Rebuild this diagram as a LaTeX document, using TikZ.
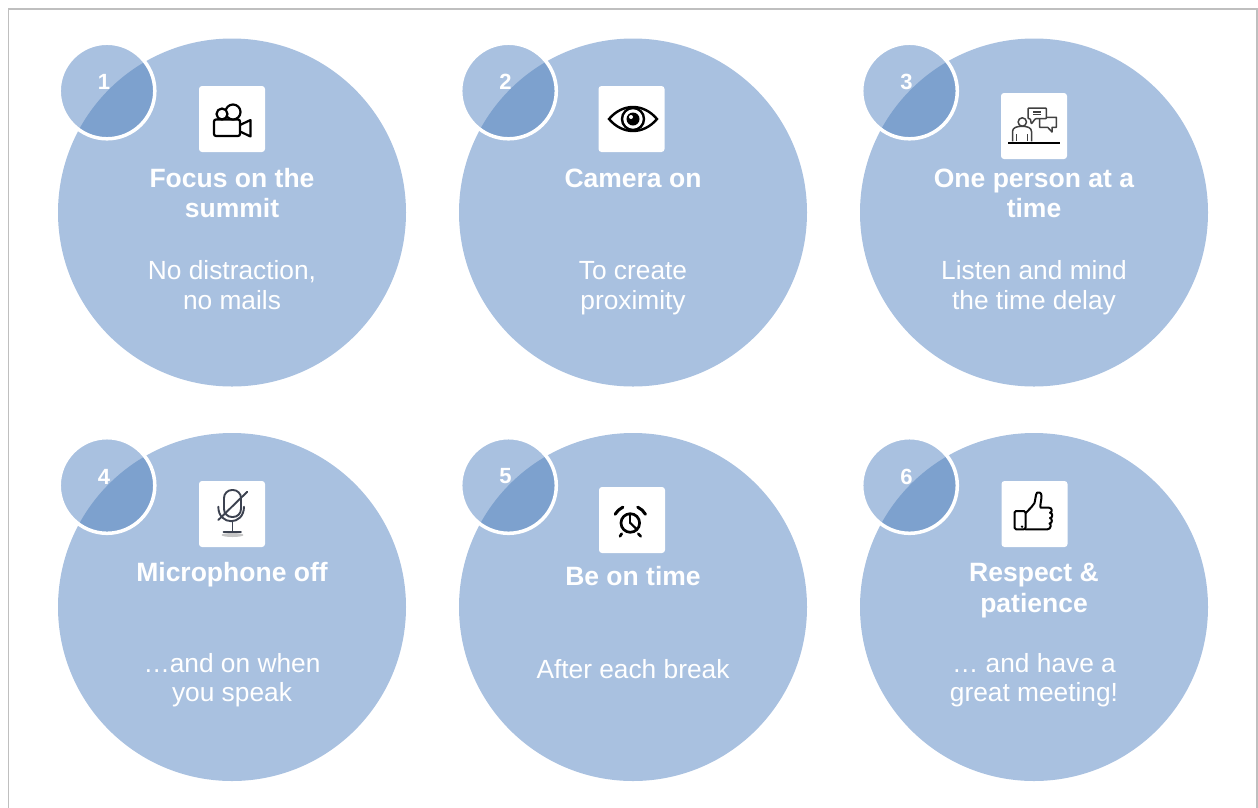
\documentclass[tikz,border=0pt]{standalone}
\usepackage{fontspec}
\setmainfont{Liberation Sans}
\definecolor{cbig}{RGB}{169,193,224}
\definecolor{cdark}{RGB}{125,161,206}
\definecolor{cframe}{RGB}{191,191,191}
\definecolor{micgray}{RGB}{60,66,80}
\definecolor{icongray}{RGB}{64,64,64}
\tikzset{
  bigc/.style={circle, fill=cbig, minimum size=348pt, inner sep=0pt},
  smallc/.style={circle, fill=cbig, minimum size=95.6pt, inner sep=0pt},
  num/.style={text=white, font=\fontsize{22}{26}\selectfont\bfseries, inner sep=0pt},
  iconbox/.style={rectangle, rounded corners=3pt, fill=white, minimum size=66pt, inner sep=0pt},
  title/.style={text=white, font=\fontsize{26.5}{30.5}\selectfont\bfseries, align=center, anchor=base, inner sep=0pt},
  desc/.style={text=white, font=\fontsize{26.3}{29.5}\selectfont, align=center, anchor=base, inner sep=0pt},
  iconline/.style={line width=2.2pt, line join=round, line cap=round},
}
\begin{document}
\begin{tikzpicture}[x=1pt, y=-1pt]
\useasboundingbox (0,0) rectangle (1258,807);
\draw[cframe, line width=1.5pt] (8.5,9) rectangle (1256.8,840);
% big circles
\foreach \i/\x/\y in {1/232/212.5, 2/633/212.5, 3/1034/212.5, 4/232/607, 5/633/607, 6/1034/607}{
  \node[bigc] (c\i) at (\x,\y) {};
}
% small number circles
\foreach \i/\x/\y in {1/107/91, 2/508.5/91, 3/909.5/91, 4/107/485.5, 5/508.5/485.5, 6/909.5/485.5}{
  \node[smallc] (s\i) at (\x,\y) {};
  \begin{scope}
    \clip (c\i.center) circle (174pt);
    \fill[cdark] (s\i.center) circle (47.8pt);
  \end{scope}
  \draw[white, line width=3.5pt] (s\i.center) circle (47.8pt);
  \node[num] (k\i) at ([shift={(-3,-9)}]s\i.center) {\i};
}
% icon boxes
\node[iconbox] (i1) at (232,119) {};
\node[iconbox] (i2) at (631.5,119) {};
\node[iconbox] (i3) at (1034,126) {};
\node[iconbox] (i4) at (232,514) {};
\node[iconbox] (i5) at (632,520) {};
\node[iconbox] (i6) at (1034.5,514) {};
% camera
\begin{scope}[shift={(i1.center)}, iconline, black]
  \draw[rounded corners=2pt] (-18,0.5) rectangle (8,17);
  \draw[fill=white] (1,-7) circle (7.5);
  \draw[fill=white] (-10,-5) circle (5.5);
  \draw (8,6) -- (18.5,1) -- (18.5,17.5) -- (8,12.5);
\end{scope}
% eye
\begin{scope}[shift={(i2.center)}, black]
  \draw[line width=2.4pt] (-22.5,0) .. controls (-9,-16) and (12,-16) .. (25.5,0) .. controls (12,16) and (-9,16) .. (-22.5,0) -- cycle;
  \draw[line width=2.4pt] (1.5,0) circle (11);
  \fill (1.5,0) circle (6.5);
  \fill[white] (-0.5,-2) circle (2);
\end{scope}
% person with speech bubbles
\begin{scope}[shift={(i3.center)}, icongray, line width=1.5pt, line join=round]
  \draw (-11.7,-4) circle (4.2);
  \draw (-21.5,15.3) -- (-21.5,5.5) .. controls (-21.5,1.5) and (-17,0.3) .. (-12,0.3) .. controls (-7,0.3) and (-2.5,1.5) .. (-2.5,5.5) -- (-2.5,15.3);
  \draw (-17.5,8) -- (-17.5,15.3);
  \draw (-6.5,8) -- (-6.5,15.3);
  \draw[line width=1.8pt, black] (-26,17) -- (26.3,17);
  \draw[fill=white] (7,-8.7) -- (22.3,-8.7) -- (22.3,1.3) -- (18,1.3) -- (18,6) -- (13.7,1.3) -- (5.7,1.3) -- (5.7,-7.3);
  \draw[fill=white, rounded corners=0.8pt] (-6,-18) -- (12.3,-18) -- (12.3,-7.3) -- (1.3,-7.3) -- (-2.7,-2) -- (-3.7,-7.3) -- (-6,-7.3) -- cycle;
  \draw (-1,-14) -- (7.3,-14);
  \draw (-1,-11.3) -- (7.3,-11.3);
\end{scope}
% microphone off
\begin{scope}[shift={(i4.center)}, micgray, line width=1.9pt, line cap=round]
  \fill[gray, opacity=0.45] (0.5,21) ellipse (11 and 2);
  \draw[rounded corners=8pt] (-8,3) rectangle (9,-24);
  \draw (-13.7,-7.3) .. controls (-13.7,12) and (12,12) .. (12,-7.3);
  \draw (0.5,7.7) -- (0.5,17.7);
  \draw (-8.5,17.7) -- (9,17.7);
  \draw (15.3,-22.3) -- (-13.7,6);
\end{scope}
% alarm clock
\begin{scope}[shift={(i5.center)}, iconline, black, line width=2.7pt]
  \draw (-1.7,3) circle (9.3);
  \draw[line width=2.2pt] (-1.7,3) -- (-1.7,-4.5);
  \draw[line width=2.2pt] (-1.7,3) -- (4,8.5);
  \draw[line width=3pt] ([shift={(-150:17.5)}]-1.7,3) arc[start angle=-150, end angle=-115, radius=17.5];
  \draw[line width=3pt] ([shift={(-65:17.5)}]-1.7,3) arc[start angle=-65, end angle=-30, radius=17.5];
  \draw (-10.3,13.7) -- (-12,16.3);
  \draw (6.3,13.7) -- (8.7,16.3);
\end{scope}
% thumbs up
\begin{scope}[shift={(i6.center)}, iconline, black, line width=2pt]
  \draw[rounded corners=1.5pt] (-20,-3) rectangle (-9,15.3);
  \fill (-12.5,12.7) circle (1.3);
  \draw (-9,-0.7) -- (-3,-7) -- (0,-11) .. controls (1,-15) and (1,-19) .. (2.5,-21.3) .. controls (4,-22.5) and (7,-21.5) .. (7,-18) .. controls (7,-14) and (5.5,-10) .. (6,-6.3) -- (14.5,-6.3) .. controls (18,-6.3) and (18,-1.5) .. (15.5,-1.3) .. controls (18.5,-1) and (18.5,4) .. (15.5,4) .. controls (18,4.5) and (18,9.5) .. (15,9.5) .. controls (17,10) and (16.5,15.3) .. (13,15.3) -- (-9,15.3);
\end{scope}
% texts (anchor base = baseline of the last line)
\node[title] (t1) at (232,217.5) {Focus on the\\summit};
\node[desc] (d1) at (232,309) {No distraction,\\no mails};
\node[title] (t2) at (633,187) {Camera on};
\node[desc] (d2) at (633,309) {To create\\proximity};
\node[title] (t3) at (1034,217.5) {One person at a\\time};
\node[desc] (d3) at (1034,309) {Listen and mind\\the time delay};
\node[title] (t4) at (232,581.7) {Microphone off};
\node[desc] (d4) at (232,701.7) {…and on when\\you speak};
\node[title] (t5) at (633,585.7) {Be on time};
\node[desc] (d5) at (633,678.3) {After each break};
\node[title] (t6) at (1034,612.2) {Respect \&\\patience};
\node[desc] (d6) at (1034,701.7) {… and have a\\great meeting!};
\end{tikzpicture}
\end{document}
